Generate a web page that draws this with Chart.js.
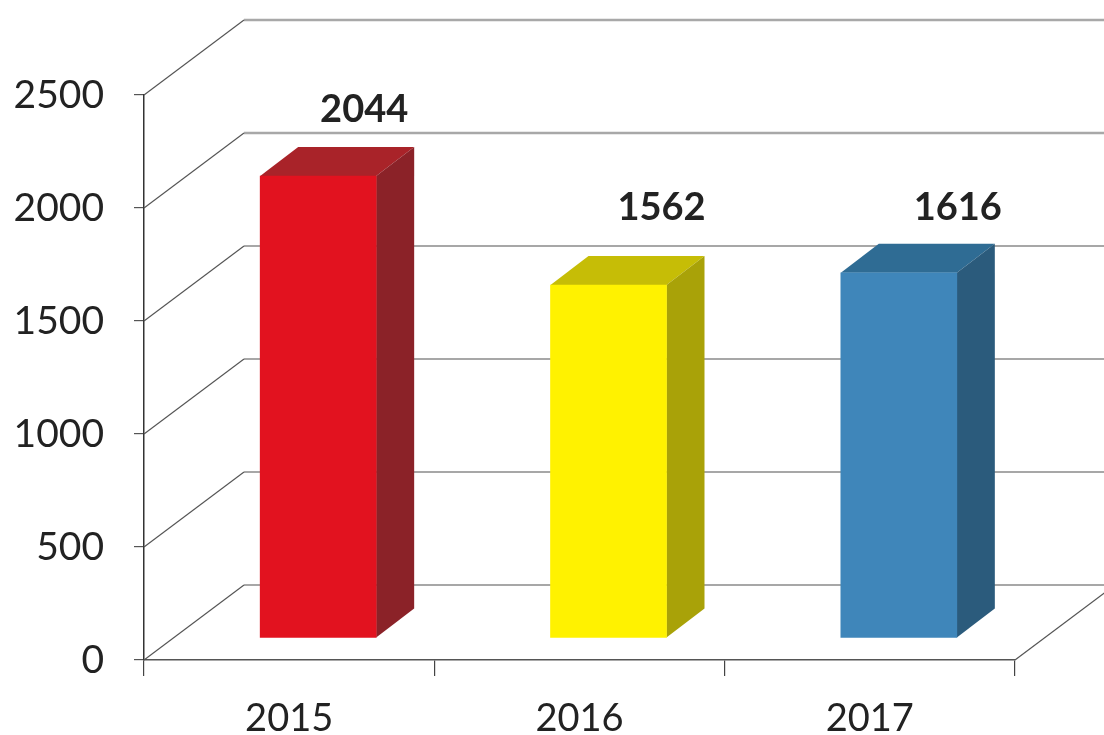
<!DOCTYPE html>
<html>
<head>
<meta charset="utf-8">
<style>html,body{margin:0;padding:0;background:#fff}canvas{display:block}</style>
<script src="https://cdn.jsdelivr.net/npm/chart.js@4"></script>
</head>
<body>
<canvas id="c" width="1104" height="735"></canvas>
<script>
const years = ['2015', '2016', '2017'];
const values = [2044, 1562, 1616];
const frontColors = ['#e2121f', '#fff200', '#3f86ba'];
const topColors = ['#a92329', '#c6bd06', '#2f6c94'];
const sideColors = ['#8b2228', '#a9a208', '#2b5b7c'];
const labelNudgeX = [75, 82, 88];
const labelNudgeY = [-88, -99, -87];

const WALL = {dx: 100, dy: -75};
const BAR_SHIFT = {dx: 29, dy: -22};
const BAR_DEPTH = {dx: 38, dy: -29};

const box3d = {
  id: 'box3d',
  beforeDatasetsDraw(chart) {
    const {ctx, scales: {x, y}} = chart;
    ctx.save();
    // back wall, side wall, floor
    y.ticks.forEach(t => {
      const py = y.getPixelForValue(t.value);
      const major = t.value >= 2000;
      ctx.strokeStyle = major ? '#a8a8a8' : '#8a8a8a';
      ctx.lineWidth = major ? 2.4 : 1.5;
      ctx.beginPath();
      ctx.moveTo(x.left + WALL.dx, py + WALL.dy);
      ctx.lineTo(x.right + WALL.dx, py + WALL.dy);
      ctx.stroke();
      ctx.strokeStyle = '#555';
      ctx.lineWidth = 1.2;
      ctx.beginPath();
      ctx.moveTo(x.left, py);
      ctx.lineTo(x.left + WALL.dx, py + WALL.dy);
      ctx.stroke();
    });
    const y0 = y.getPixelForValue(0);
    ctx.beginPath();
    ctx.moveTo(x.right, y0);
    ctx.lineTo(x.right + WALL.dx, y0 + WALL.dy);
    ctx.stroke();
    // top and side faces of the bars
    const meta = chart.getDatasetMeta(0);
    meta.data.forEach((el, i) => {
      const l = el.x - el.width / 2 + BAR_SHIFT.dx;
      const r = el.x + el.width / 2 + BAR_SHIFT.dx;
      const t = el.y + BAR_SHIFT.dy;
      const b = el.base + BAR_SHIFT.dy;
      ctx.fillStyle = topColors[i];
      ctx.beginPath();
      ctx.moveTo(l, t);
      ctx.lineTo(l + BAR_DEPTH.dx, t + BAR_DEPTH.dy);
      ctx.lineTo(r + BAR_DEPTH.dx, t + BAR_DEPTH.dy);
      ctx.lineTo(r, t);
      ctx.closePath();
      ctx.fill();
      ctx.fillStyle = sideColors[i];
      ctx.beginPath();
      ctx.moveTo(r, t);
      ctx.lineTo(r + BAR_DEPTH.dx, t + BAR_DEPTH.dy);
      ctx.lineTo(r + BAR_DEPTH.dx, b + BAR_DEPTH.dy);
      ctx.lineTo(r, b);
      ctx.closePath();
      ctx.fill();
    });
    ctx.restore();
    ctx.save();
    ctx.translate(BAR_SHIFT.dx, BAR_SHIFT.dy);
  },
  afterDatasetsDraw(chart) {
    const {ctx} = chart;
    ctx.restore();
    ctx.save();
    ctx.font = 'bold 38px Lato';
    ctx.fillStyle = '#222';
    ctx.textAlign = 'center';
    ctx.textBaseline = 'middle';
    chart.getDatasetMeta(0).data.forEach((el, i) => {
      ctx.fillText(String(values[i]), el.x + labelNudgeX[i], el.y + labelNudgeY[i]);
    });
    ctx.restore();
  }
};

new Chart(document.getElementById('c'), {
  type: 'bar',
  data: {
    labels: years,
    datasets: [{
      data: values,
      backgroundColor: frontColors,
      borderWidth: 0,
      barThickness: 116,
      clip: false
    }]
  },
  options: {
    responsive: false,
    animation: false,
    layout: {padding: {top: 95, right: 89, left: 0, bottom: 0}},
    plugins: {legend: {display: false}, tooltip: {enabled: false}},
    scales: {
      x: {
        offset: true,
        afterFit(a) { a.height = 75; },
        grid: {display: true, offset: true, drawOnChartArea: false, drawTicks: true, tickLength: 16, color: '#444', lineWidth: 1.2},
        border: {display: true, color: '#555', width: 1.5},
        ticks: {color: '#222', font: {family: 'Lato', size: 38}, padding: 20, maxRotation: 0}
      },
      y: {
        min: 0,
        max: 2500,
        afterFit(a) { a.width = 144; },
        grid: {display: true, drawOnChartArea: false, drawTicks: true, tickLength: 10, color: '#555', lineWidth: 1.2},
        border: {display: true, color: '#333', width: 1.5},
        ticks: {stepSize: 500, color: '#222', font: {family: 'Lato', size: 39}, padding: 30, callback: v => String(v)}
      }
    }
  },
  plugins: [box3d]
});
</script>
</body>
</html>
